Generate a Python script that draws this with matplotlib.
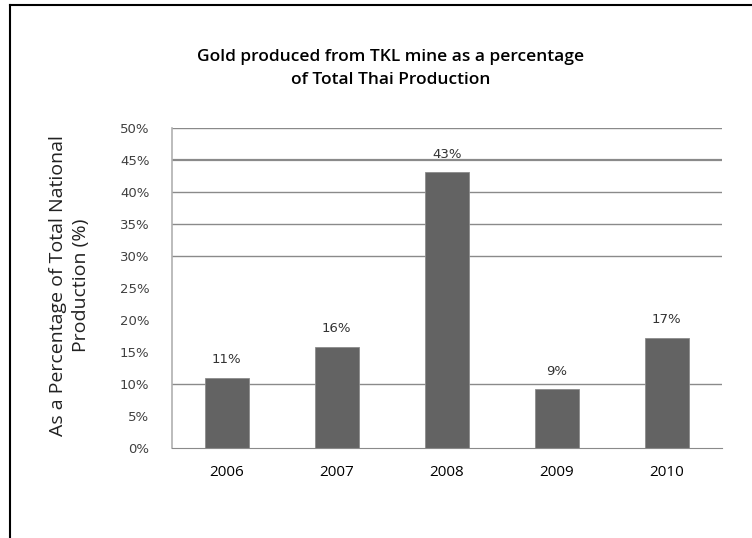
import matplotlib.pyplot as plt
from matplotlib.lines import Line2D

years = ["2006", "2007", "2008", "2009", "2010"]
share = [11.0, 15.8, 43.1, 9.2, 17.2]
bar_labels = ["11%", "16%", "43%", "9%", "17%"]
yticks = [0, 5, 10, 15, 20, 25, 30, 35, 40, 45, 50]
# gridlines that are visible in the source picture
grid_levels = [10, 30, 35, 40, 45, 50]

plt.rcParams['font.family'] = ['Open Sans', 'DejaVu Sans']

fig = plt.figure(figsize=(7.52, 5.38), dpi=100)
ax = fig.add_axes([0.2283, 0.1673, 0.7314, 0.5948])

for g in grid_levels:
    lw = 1.6 if g == 45 else 1.0
    ax.axhline(g, color='#8a8a8a', lw=lw, zorder=1)

x = range(len(years))
ax.bar(x, share, width=0.4, color='#636363', edgecolor='#8c8c8c', linewidth=0.6, zorder=2)

for i, v in enumerate(share):
    ax.annotate(bar_labels[i], (i, v), xytext=(0, 13), textcoords='offset points',
                ha='center', va='center', fontsize=9.5, color='#333333', family='DejaVu Sans')

ax.set_xlim(-0.5, len(years) - 0.5)
ax.set_ylim(0, 50)
ax.set_yticks(yticks)
ax.set_yticklabels([f"{t}%" for t in yticks], fontsize=9.5, color='#404040', family='DejaVu Sans')
ax.set_xticks(list(x))
ax.set_xticklabels(years, fontsize=11)
ax.tick_params(axis='both', length=0, pad=12)
ax.tick_params(axis='y', pad=16)

for side in ['top', 'right']:
    ax.spines[side].set_visible(False)
ax.spines['left'].set_color('#b0b0b0')
ax.spines['left'].set_linewidth(1.2)
ax.spines['bottom'].set_color('#8a8a8a')

fig.text(0.092, 0.47, "As a Percentage of Total National\nProduction (%)", rotation=90,
         ha='center', va='center', fontsize=14, color='#222222', linespacing=1.35)

fig.text(0.52, 0.872, "Gold produced from TKL mine as a percentage\nof Total Thai Production",
         ha='center', va='center', fontsize=12.5, fontweight='semibold', linespacing=1.6)

# outer frame (only top and left edges visible)
fig.add_artist(Line2D([10 / 752, 10 / 752], [0, 1 - 5 / 538], transform=fig.transFigure, color='black', lw=1.5))
fig.add_artist(Line2D([10 / 752, 1], [1 - 5 / 538, 1 - 5 / 538], transform=fig.transFigure, color='black', lw=1.5))

fig.savefig("out.png", dpi=100)
